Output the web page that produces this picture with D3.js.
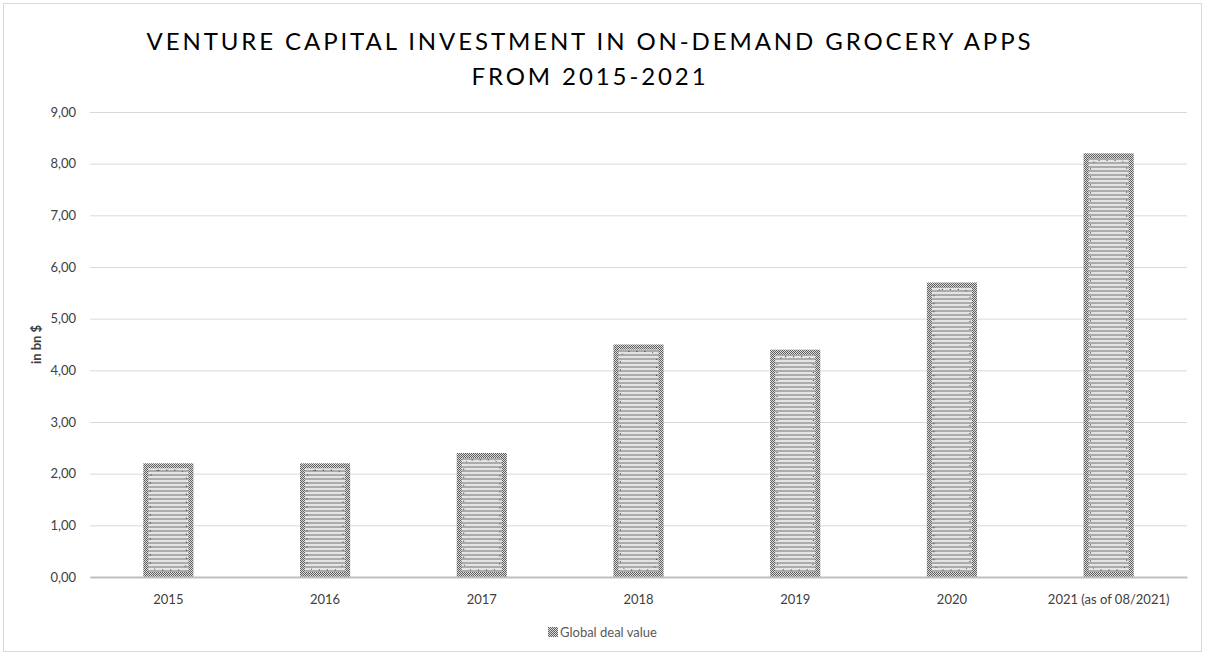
<!DOCTYPE html>
<html>
<head>
<meta charset="utf-8">
<script src="https://cdn.jsdelivr.net/npm/d3@7"></script>
<style>
  html, body { margin: 0; padding: 0; background: #fff; }
  svg { display: block; }
  text { font-family: Lato, "Open Sans", "DejaVu Sans", sans-serif; }
</style>
</head>
<body>
<svg id="chart" width="1205" height="655"></svg>
<script>
// Venture capital investment in on-demand grocery apps (bn $)
const categories = ["2015", "2016", "2017", "2018", "2019", "2020", "2021 (as of 08/2021)"];
const dealValues = [2.2, 2.2, 2.4, 4.5, 4.4, 5.7, 8.2];
const yTicks = [0, 1, 2, 3, 4, 5, 6, 7, 8, 9];
const titleLines = ["VENTURE CAPITAL INVESTMENT IN ON-DEMAND GROCERY APPS", "FROM 2015-2021"];
const seriesName = "Global deal value";
const yAxisLabel = "in bn $";

const W = 1205, H = 655;
const margin = { left: 90, right: 18, top: 112, bottom: 78 };

const svg = d3.select("#chart");
const defs = svg.append("defs");

// Horizontal stripe fill for the bars
const stripes = defs.append("pattern")
  .attr("id", "stripes").attr("patternUnits", "userSpaceOnUse")
  .attr("width", 4).attr("height", 4);
stripes.append("rect").attr("width", 4).attr("height", 4).attr("fill", "#e4e4e4");
stripes.append("rect").attr("y", 2).attr("width", 4).attr("height", 2).attr("fill", "#ababab");

// Fine checker texture for the bar edges
const checker = defs.append("pattern")
  .attr("id", "checker").attr("patternUnits", "userSpaceOnUse")
  .attr("width", 2).attr("height", 2);
checker.append("rect").attr("width", 2).attr("height", 2).attr("fill", "#dcdcdc");
checker.append("rect").attr("width", 1).attr("height", 1).attr("fill", "#5e5e5e");
checker.append("rect").attr("x", 1).attr("y", 1).attr("width", 1).attr("height", 1).attr("fill", "#5e5e5e");

// Outer chart frame
svg.append("rect")
  .attr("x", 3.5).attr("y", 3.5).attr("width", W - 7).attr("height", H - 7)
  .attr("fill", "#fff").attr("stroke", "#d9d9d9").attr("stroke-width", 1);

const x = d3.scaleBand()
  .domain(categories)
  .range([margin.left, W - margin.right])
  .paddingInner(0.68).paddingOuter(0.34);

const y = d3.scaleLinear()
  .domain([0, 9])
  .range([H - margin.bottom, margin.top]);

// Gridlines
const grid = svg.append("g")
  .attr("transform", `translate(${margin.left},0)`)
  .call(d3.axisLeft(y).tickValues(yTicks).tickSize(-(W - margin.left - margin.right)).tickFormat(""));
grid.select(".domain").remove();
grid.selectAll(".tick line").attr("stroke", "#d9d9d9").attr("stroke-width", 1);

// Y tick labels
const yAxis = svg.append("g")
  .attr("transform", `translate(${margin.left},0)`)
  .call(d3.axisLeft(y).tickValues(yTicks).tickSize(0).tickPadding(14)
    .tickFormat(d => d3.format(".2f")(d).replace(".", ",")));
yAxis.select(".domain").remove();
yAxis.selectAll("text").attr("font-size", 13).attr("fill", "#404040");

// Bars
const bars = svg.append("g");
const data = categories.map((c, i) => ({ c, v: dealValues[i] }));

bars.selectAll("rect.edge").data(data).join("rect")
  .attr("class", "edge")
  .attr("x", d => x(d.c)).attr("y", d => y(d.v))
  .attr("width", x.bandwidth()).attr("height", d => y(0) - y(d.v))
  .attr("fill", "url(#checker)");

bars.selectAll("rect.core").data(data).join("rect")
  .attr("class", "core")
  .attr("x", d => x(d.c) + 5).attr("y", d => y(d.v) + 5)
  .attr("width", x.bandwidth() - 10).attr("height", d => y(0) - y(d.v) - 10)
  .attr("fill", "url(#stripes)");

bars.selectAll("rect.ring").data(data).join("rect")
  .attr("class", "ring")
  .attr("x", d => x(d.c) + 7).attr("y", d => y(d.v) + 7)
  .attr("width", x.bandwidth() - 14).attr("height", d => y(0) - y(d.v) - 14)
  .attr("rx", 8).attr("ry", 8)
  .attr("fill", "none").attr("stroke", "#333").attr("stroke-width", 1)
  .attr("stroke-dasharray", "1 7");

// X axis baseline and labels
const xAxis = svg.append("g")
  .attr("transform", `translate(0,${y(0)})`)
  .call(d3.axisBottom(x).tickSize(0).tickPadding(18));
xAxis.select(".domain").attr("stroke", "#bfbfbf").attr("stroke-width", 2);
xAxis.selectAll("text").attr("font-size", 13).attr("fill", "#404040");

// Y axis title
svg.append("text")
  .attr("transform", `translate(41,${(margin.top + H - margin.bottom) / 2}) rotate(-90)`)
  .attr("text-anchor", "middle")
  .attr("font-size", 13).attr("font-weight", "bold").attr("fill", "#404040")
  .text(yAxisLabel);

// Title
svg.append("g").selectAll("text").data(titleLines).join("text")
  .attr("x", 590).attr("y", (d, i) => 50 + i * 35)
  .attr("text-anchor", "middle")
  .attr("font-size", 24).attr("letter-spacing", 2.9).attr("fill", "#000")
  .text(d => d);

// Legend
const legend = svg.append("g").attr("transform", "translate(548,637)");
legend.append("rect").attr("x", 0).attr("y", -10).attr("width", 10).attr("height", 10)
  .attr("fill", "url(#checker)");
legend.append("text").attr("x", 12).attr("y", 0)
  .attr("font-size", 13).attr("fill", "#595959")
  .text(seriesName);
</script>
</body>
</html>
